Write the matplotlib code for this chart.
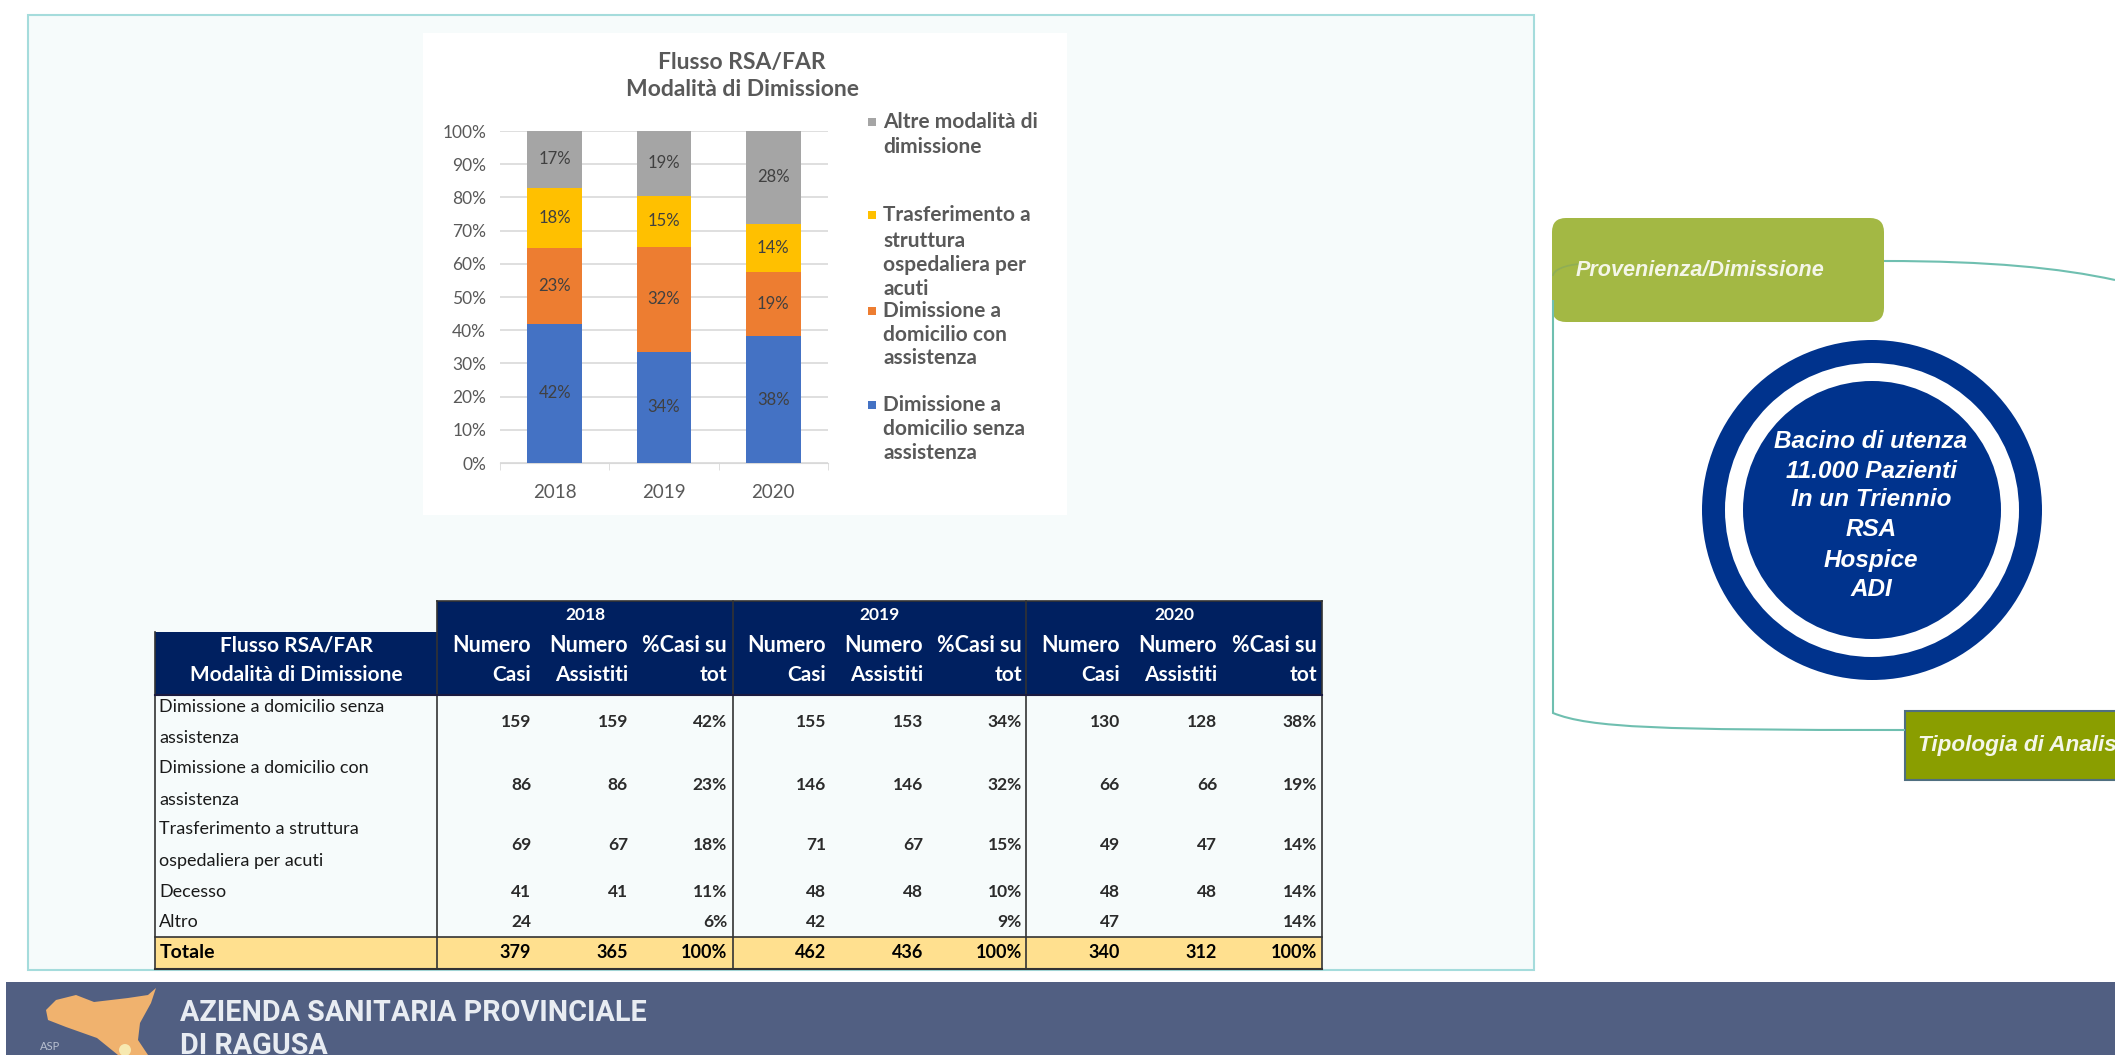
import matplotlib
matplotlib.use('Agg')
import matplotlib.pyplot as plt
from matplotlib.patches import Rectangle, FancyBboxPatch, Circle, Polygon, PathPatch
from matplotlib.path import Path

plt.rcParams['font.family'] = ['Lato', 'DejaVu Sans']

# chart data, number of cases per year (the bars are the share of the yearly total)
years = ['2018', '2019', '2020']
senza_assistenza = [159, 155, 130]
con_assistenza = [86, 146, 66]
trasferimento = [69, 71, 49]
altre_modalita = [65, 90, 95]
totali = [379, 462, 340]

series_values = [senza_assistenza, con_assistenza, trasferimento, altre_modalita]
series_colors = ['#4472C4', '#ED7D31', '#FFC000', '#A5A5A5']
y_ticks = [0, 10, 20, 30, 40, 50, 60, 70, 80, 90, 100]

# table data
row_labels = [['Dimissione a domicilio senza', 'assistenza'],
              ['Dimissione a domicilio con', 'assistenza'],
              ['Trasferimento a struttura', 'ospedaliera per acuti'],
              ['Decesso'],
              ['Altro']]
casi_2018 = ['159', '86', '69', '41', '24']
assistiti_2018 = ['159', '86', '67', '41', '']
perc_2018 = ['42%', '23%', '18%', '11%', '6%']
casi_2019 = ['155', '146', '71', '48', '42']
assistiti_2019 = ['153', '146', '67', '48', '']
perc_2019 = ['34%', '32%', '15%', '10%', '9%']
casi_2020 = ['130', '66', '49', '48', '47']
assistiti_2020 = ['128', '66', '47', '48', '']
perc_2020 = ['38%', '19%', '14%', '14%', '14%']
totale = ['379', '365', '100%', '462', '436', '100%', '340', '312', '100%']

W, H = 2115, 1055
fig = plt.figure(figsize=(21.15, 10.55), dpi=100, facecolor='white')

# overlay in pixel coordinates for everything around the chart
bg = fig.add_axes([0, 0, 1, 1])
bg.set_xlim(0, W)
bg.set_ylim(H, 0)
bg.axis('off')

NAVY = '#002060'
GREY = '#595959'

# main panel
bg.add_patch(Rectangle((28, 15), 1506, 955, fc='#F6FBFB', ec='#A5DCDC', lw=1.5))
bg.add_patch(Rectangle((423, 33), 644, 482, fc='white', ec='none'))

# chart title
bg.text(742, 62, 'Flusso RSA/FAR', ha='center', va='center', fontsize=16.5, fontweight='bold', color=GREY)
bg.text(742, 89, 'Modalità di Dimissione', ha='center', va='center', fontsize=16.5, fontweight='bold', color=GREY)

# stacked bars
ax = fig.add_axes([500 / W, 1 - 463 / H, 328 / W, 332 / H])
ax.patch.set_alpha(0)
bottom = [0, 0, 0]
for vals, col in zip(series_values, series_colors):
    shares = [100 * v / t for v, t in zip(vals, totali)]
    ax.bar(range(3), shares, 0.5, bottom=bottom, color=col, zorder=3)
    for i, v in enumerate(shares):
        ax.text(i, bottom[i] + v / 2, f'{v:.0f}%', ha='center', va='center',
                fontsize=12, color='#404040', zorder=4)
    bottom = [b + v for b, v in zip(bottom, shares)]
ax.set_xlim(-0.5, 2.5)
ax.set_ylim(0, 100)
ax.set_yticks(y_ticks)
ax.set_yticklabels([f'{t}%' for t in y_ticks], fontsize=12.5, color=GREY)
ax.set_xticks(range(3))
ax.set_xticklabels(years, fontsize=13.5, color=GREY)
ax.set_xticks([-0.5, 0.5, 1.5, 2.5], minor=True)
ax.tick_params(axis='y', length=0, pad=10)
ax.tick_params(axis='x', which='major', length=0, pad=15)
ax.tick_params(axis='x', which='minor', length=5, color='#D9D9D9')
ax.grid(axis='y', color='#D9D9D9', lw=1.2, zorder=0)
for s in ['top', 'right', 'left']:
    ax.spines[s].set_visible(False)
ax.spines['bottom'].set_color('#D9D9D9')

# legend, written by hand because of its uneven spacing
legend_items = [(series_colors[3], ['Altre modalità di', 'dimissione'], [122, 147]),
                (series_colors[2], ['Trasferimento a', 'struttura', 'ospedaliera per', 'acuti'], [215, 241, 265, 289]),
                (series_colors[1], ['Dimissione a', 'domicilio con', 'assistenza'], [311, 335, 358]),
                (series_colors[0], ['Dimissione a', 'domicilio senza', 'assistenza'], [405, 429, 453])]
for col, lines, ys in legend_items:
    bg.add_patch(Rectangle((868, ys[0] - 4), 8, 8, fc=col, ec='none'))
    for line, y in zip(lines, ys):
        bg.text(883, y, line, ha='left', va='center', fontsize=15, fontweight='bold', color=GREY)

# table
col_x = [437, 733, 1026, 1322]
right_edges = [531, 628, 727, 826, 923, 1022, 1120, 1217, 1317]
label_y = [[707, 738], [768, 800], [829, 861], [892], [922]]
number_y = [722, 785, 845, 892, 922]
TXT = '#1A1A1A'

bg.add_patch(Rectangle((437, 601), 885, 31, fc=NAVY, ec='none'))
bg.add_patch(Rectangle((155, 632), 1167, 63, fc=NAVY, ec='none'))
bg.add_patch(Rectangle((155, 937), 1167, 32, fc='#FFE08F', ec='none'))

for i, y in enumerate(years):
    bg.text((col_x[i] + col_x[i + 1]) / 2, 615, y, ha='center', va='center',
            fontsize=12.5, fontweight='bold', color='white')
bg.text(296, 645, 'Flusso RSA/FAR', ha='center', va='center', fontsize=15, fontweight='bold', color='white')
bg.text(296, 675, 'Modalità di Dimissione', ha='center', va='center', fontsize=15, fontweight='bold', color='white')

head_top = ['Numero', 'Numero', '%Casi su']
head_bot = ['Casi', 'Assistiti', 'tot']
for i, x in enumerate(right_edges):
    bg.text(x, 645, head_top[i % 3], ha='right', va='center', fontsize=15.5, fontweight='bold', color='white')
    bg.text(x, 675, head_bot[i % 3], ha='right', va='center', fontsize=15, fontweight='bold', color='white')

columns = [casi_2018, assistiti_2018, perc_2018, casi_2019, assistiti_2019, perc_2019,
           casi_2020, assistiti_2020, perc_2020]
for r in range(5):
    for line, y in zip(row_labels[r], label_y[r]):
        bg.text(159, y, line, ha='left', va='center', fontsize=13, color=TXT)
    for x, col in zip(right_edges, columns):
        bg.text(x, number_y[r], col[r], ha='right', va='center', fontsize=12.5, fontweight='bold', color='#2B2B2B')

bg.text(160, 953, 'Totale', ha='left', va='center', fontsize=14, fontweight='bold', color='black')
for x, v in zip(right_edges, totale):
    bg.text(x, 953, v, ha='right', va='center', fontsize=13, fontweight='bold', color='black')

# table borders
for x in [437, 733, 1026]:
    bg.plot([x, x], [601, 969], color='#333333', lw=1.2)
bg.plot([155, 155], [632, 969], color='#333333', lw=1.2)
bg.plot([1322, 1322], [601, 969], color='#333333', lw=1.2)
bg.plot([437, 1322], [601, 601], color='#333333', lw=1.2)
bg.plot([155, 1322], [695, 695], color='#1A1A40', lw=1.5)
bg.plot([155, 1322], [937, 937], color='#333333', lw=1.2)
bg.plot([155, 1322], [969, 969], color='#333333', lw=1.5)

# right side diagram
LINE = '#6FBFB0'
bg.add_patch(FancyBboxPatch((1552 + 14, 218 + 14), 332 - 28, 104 - 28,
                            boxstyle='round,pad=14,rounding_size=14', fc='#A3B844', ec='none'))
bg.add_patch(Rectangle((1905, 711), 215, 69, fc='#8A9E00', ec='#4F6F80', lw=1.5))
bg.add_patch(PathPatch(Path([(1884, 261), (1990, 261), (2060, 268), (2115, 280)],
                            [Path.MOVETO, Path.CURVE4, Path.CURVE4, Path.CURVE4]),
                       fc='none', ec=LINE, lw=1.5))
bg.add_patch(PathPatch(Path([(1553, 276), (1553, 270), (1565, 265), (1580, 264)],
                            [Path.MOVETO, Path.CURVE4, Path.CURVE4, Path.CURVE4]),
                       fc='none', ec='#8FAE55', lw=1.2))
bg.add_patch(PathPatch(Path([(1553, 300), (1553, 713), (1590, 728), (1660, 730), (1905, 730)],
                            [Path.MOVETO, Path.LINETO, Path.CURVE4, Path.CURVE4, Path.CURVE4]),
                       fc='none', ec=LINE, lw=1.5))

bg.add_patch(Circle((1872, 510), 170, fc='#00338D', ec='none'))
bg.add_patch(Circle((1872, 510), 147, fc='white', ec='none'))
bg.add_patch(Circle((1872, 510), 129, fc='#00338D', ec='none'))

ARIAL = ['Liberation Sans', 'DejaVu Sans']
bg.text(1700, 271, 'Provenienza/Dimissione', ha='center', va='center', family=ARIAL,
        fontsize=15.6, fontweight='bold', fontstyle='italic', color='#F4F6E8')
circle_lines = ['Bacino di utenza', '11.000 Pazienti', 'In un Triennio', 'RSA', 'Hospice', 'ADI']
circle_y = [441, 471, 500, 530, 560, 590]
for line, y in zip(circle_lines, circle_y):
    bg.text(1871, y, line, ha='center', va='center', family=ARIAL,
            fontsize=17.5, fontweight='bold', fontstyle='italic', color='white')
bg.text(1918, 745, 'Tipologia di Analisi', ha='left', va='center', family=ARIAL,
        fontsize=16.2, fontweight='bold', fontstyle='italic', color='#F4F6E8')

# footer
bg.add_patch(Rectangle((6, 982), W, 80, fc='#515F82', ec='none'))
sicily = [(46, 1010), (56, 1000), (76, 995), (94, 1002), (128, 998), (148, 995), (156, 988),
          (151, 1003), (140, 1023), (138, 1040), (148, 1055), (118, 1055), (97, 1038),
          (66, 1027), (48, 1020)]
bg.add_patch(Polygon(sicily, closed=True, fc='#F0B26E', ec='none'))
bg.add_patch(Circle((125, 1050), 6, fc='#F7E9B0', ec='none'))
bg.text(50, 1046, 'ASP', ha='center', va='center', fontsize=8, color='#B8C0D0')
bg.text(180, 1021, 'AZIENDA SANITARIA PROVINCIALE', ha='left', va='baseline', family=['Roboto', 'DejaVu Sans'],
        fontsize=20.7, fontweight='bold', color='#E8ECF2')
bg.text(180, 1054, 'DI RAGUSA', ha='left', va='baseline', family=['Roboto', 'DejaVu Sans'],
        fontsize=20.7, fontweight='bold', color='#E8ECF2')

fig.savefig('out.png', dpi=100)
